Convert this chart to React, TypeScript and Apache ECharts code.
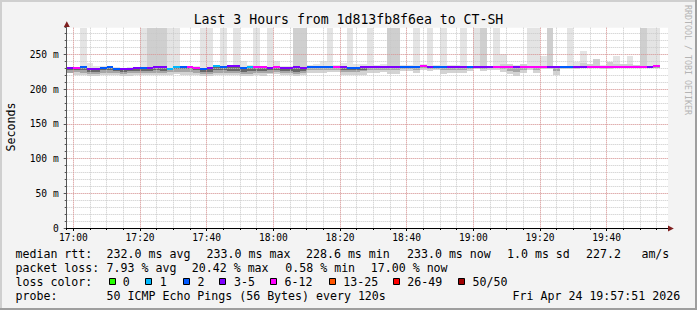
import React, { useEffect, useRef } from 'react';
import * as echarts from 'echarts';

// ---- time axis (minutes since midnight) ----
const T_START = 1018; // 16:58
const STEP_MIN = 2; // 120 s
const X_MAX = 1198.4;
const Y_MAX = 288.6;

// ---- per-step values (ms), 89 steps ----
const MED = [
  230.6, 230.6, 231.3, 229.1, 229.1, 230.6, 231.3, 229.8, 228.6, 229.8,
  230.2, 230.2, 231.0, 232.2, 231.3, 229.1, 232.0, 232.0, 232.0, 230.6,
  229.1, 230.2, 232.9, 232.5, 232.9, 232.9, 230.2, 231.3, 231.8, 231.6,
  230.4, 232.4, 230.5, 230.5, 232.4, 230.5, 232.4, 232.4, 232.4, 232.4,
  232.4, 232.4, 230.5, 230.5, 232.4, 232.4, 232.4, 232.4, 232.4, 232.4,
  232.4, 232.4, 232.4, 233.0, 232.4, 232.4, 232.4, 232.4, 232.4, 232.4,
  232.4, 232.4, 232.4, 232.4, 232.4, 232.4, 232.4, 232.4, 232.4, 232.4,
  232.4, 232.4, 232.4, 232.4, 232.4, 232.4, 232.4, 232.4, 232.4, 232.4,
  232.4, 232.4, 232.4, 232.4, 232.4, 232.4, 232.4, 232.4, 233.0,
];
// loss bucket index into LOSS_LABELS
const LOSS = [
  3, 4, 2, 3, 3, 2, 2, 2, 3, 3,
  3, 2, 3, 3, 3, 1, 1, 2, 4, 4,
  2, 3, 1, 2, 3, 3, 2, 1, 4, 4,
  3, 4, 3, 3, 3, 3, 2, 2, 2, 2,
  4, 3, 2, 2, 3, 3, 3, 3, 3, 3,
  2, 2, 2, 4, 3, 2, 2, 3, 3, 3,
  2, 3, 3, 3, 4, 4, 4, 3, 4, 4,
  4, 4, 3, 3, 2, 2, 3, 3, 4, 4,
  4, 4, 4, 4, 4, 4, 4, 3, 4,
];
// highest ping (300 = beyond the top of the graph)
const HI = [
  232, 232, 300, 238.2, 233, 233, 233, 232.5, 231, 232,
  232, 300, 300, 300, 300, 300, 300, 234, 234, 233,
  300, 300, 235, 300, 234, 300, 240.6, 235, 300, 234,
  300, 240, 234, 234, 300, 300, 235, 236.7, 240, 300,
  235, 238, 300, 236, 236, 300, 235, 236, 300, 300,
  235, 235, 300, 236, 300, 235, 300, 235, 235, 300,
  234, 300, 300, 234, 300, 250.7, 236.3, 234.9, 236.3, 300,
  300, 247.8, 300, 234, 234, 300, 239.7, 254.5, 236.3, 244,
  234.9, 239.2, 248.3, 237, 247.8, 234.9, 300, 300, 300,
];
// upper dense band top (null = none)
const HI2 = [
  null, null, null, null, null, null, null, null, null, null,
  null, null, 300, 300, 300, null, null, null, null, null,
  null, null, null, null, null, null, null, null, null, null,
  null, null, null, null, 300, 300, null, null, null, null,
  null, null, null, null, null, null, null, null, 300, 300,
  null, null, null, null, null, null, null, null, null, null,
  null, null, 300, null, null, 236, 236.3, null, 236.3, null,
  null, null, 300, null, null, null, null, 238, 236.3, 244,
  null, 239.2, 236, 237, 236, 234.9, 300, null, null,
];
// lowest ping
const LO = [
  222.7, 221, 221, 219.5, 219.5, 221, 221, 221, 219, 219,
  220, 220, 221, 221, 220, 221, 222, 221, 221, 221,
  218.5, 219, 221, 221, 220, 220, 219, 219, 220, 219,
  222, 222, 221, 221, 219, 220, 223, 224, 224, 225,
  225, 220, 220, 220, 221, 224, 224, 225, 222, 222,
  226, 226, 224, 228, 226, 227, 222, 223, 224, 223,
  226, 229.5, 226, 228, 227, 225, 221.3, 219.5, 223.9, 227.5,
  224, 229, 229, 220.5, 229, 229.5, 228.5, 230, 230, 230,
  229, 228.5, 230, 230, 230, 231, 230, 230, 230,
];
// lower medium band bottom
const LO2 = [
  224, 225, 224, 222.5, 222.5, 224, 224, 223, 222, 223,
  223, 223, 224, 224, 223, 225, 225, 225, 225, 224,
  222, 222, 224, 224, 223.5, 223.5, 222.5, 222.5, 223.5, 223.5,
  224, 225, 224, 224, 222.5, 223, 227, 227, 228, 228,
  228, 225, 225, 225, 226, 228, 228, 228, 227, 227,
  229, 229, 228, 230, 229, 229, 227, 228, 228, 228,
  229, 231, 229, 230, 230, 229, 226, 225, 228, 230,
  228, 231, 230, 226, 231, 231, 230, 231, 231, 231,
  231, 230, 231, 231, 231, 231.5, 231, 231, 231,
];
// lower dark band bottom
const LO3 = [
  227, 228, 227, 225, 225, 227.5, 227.5, 226, 225, 226.5,
  226.5, 226, 226, 227, 226, 227, 228.5, 228.5, 228.5, 227,
  224.5, 225, 227, 227, 226, 226, 225, 225.5, 226, 226,
  227, 227.5, 226, 226, 225, 226, 230, 230, 230, 230,
  230, 228, 228, 228, 228, 231, 231, 231, 231, 231,
  231.5, 231.5, 231.5, 231.5, 231.5, 231.5, 231.5, 231.8, 231.8, 231.8,
  231.8, 231.8, 231.8, 231.8, 231.8, 231.8, 231.8, 231.8, 231.8, 231.8,
  231.8, 231.8, 231.8, 231.8, 231.8, 231.8, 231.8, 231.8, 231.8, 231.8,
  231.8, 231.8, 231.8, 231.8, 231.8, 231.8, 231.8, 231.8, 232.2,
];

// ---- legend ----
const LOSS_LABELS = ['0', '1', '2', '3-5', '6-12', '13-25', '26-49', '50/50'];
const LOSS_COLORS = ['#26ff00', '#00b8ff', '#0059ff', '#7e00ff', '#ff00ff', '#ff5500', '#ff0000', '#a10000'];
const TITLE = 'Last 3 Hours from 1d813fb8f6ea to CT-SH';
const Y_NAME = 'Seconds';
const WATERMARK = 'RRDTOOL / TOBI OETIKER';
const RTT_ROW = ['median rtt:', '232.0 ms avg', '233.0 ms max', '228.6 ms min', '233.0 ms now', '1.0 ms sd', '227.2', 'am/s'];
const LOSS_ROW = ['packet loss:', '7.93 % avg', '20.42 % max', '0.58 % min', '17.00 % now'];
const LOSS_COLOR_TITLE = 'loss color:';
const PROBE_ROW = ['probe:', '50 ICMP Echo Pings (56 Bytes) every 120s', 'Fri Apr 24 19:57:51 2026'];

// layout (pixels)
const RTT_X = [15.5, 106.6, 206.6, 306, 407, 507, 586, 641.4];
const LOSS_X = [15.5, 106.6, 191.8, 285.3, 370.8];
const PROBE_X = [15.5, 106.6, 512.6];
const BOX_X = [108.7, 145.3, 182.7, 219.3, 270, 329, 393.3, 458.3];
const BOXTXT_X = [122.8, 159.8, 197.5, 234, 284.6, 343.3, 407.3, 472.6];
const ROW_Y = [254, 267.7, 282.3, 295.7];

const FONT = '"DejaVu Sans Mono", monospace';

function hhmm(v: number) {
  const h = Math.floor(v / 60);
  const m = Math.round(v - h * 60);
  return String(h).padStart(2, '0') + ':' + String(m).padStart(2, '0');
}

export default function App() {
  const ref = useRef<HTMLDivElement>(null);
  useEffect(() => {
    document.body.style.margin = '0';
    const chart = echarts.init(ref.current!, null, { renderer: 'svg' });

    const data = MED.map((m, i) => [
      T_START + i * STEP_MIN,
      T_START + (i + 1) * STEP_MIN,
      LO[i], LO2[i], LO3[i], m, HI2[i] == null ? m : HI2[i], HI[i], LOSS[i],
    ]);

    const minorGrid = {
      show: true, showMinLine: false, showMaxLine: false,
      lineStyle: { color: '#c8c8c8', type: [1, 1], width: 1 },
    };
    const majorGrid = {
      show: true, showMinLine: false, showMaxLine: false,
      lineStyle: { color: 'rgba(255,40,40,0.34)', type: [1, 1], width: 1 },
    };

    const smokeRender = (params: any, api: any) => {
      const cs = params.coordSys;
      const t0 = api.value(0), t1 = api.value(1);
      const x0 = Math.round(api.coord([t0, 0])[0]);
      const x1 = Math.round(api.coord([t1, 0])[0]);
      const Y = (v: number) => Math.round(Math.max(cs.y, api.coord([t0, v])[1]));
      const rect = (a: number, b: number, fill: string) => {
        const ya = Y(a), yb = Y(b);
        const top = Math.min(ya, yb), h = Math.abs(ya - yb);
        return { type: 'rect', shape: { x: x0, y: top, width: x1 - x0, height: h }, style: { fill } };
      };
      const lo = api.value(2), lo2 = api.value(3), lo3 = api.value(4), med = api.value(5), hi2 = api.value(6), hi = api.value(7);
      return {
        type: 'group',
        children: [
          rect(med, hi, '#e4e4e4'),
          rect(med, hi2, '#cfcfcf'),
          rect(lo, med, '#d3d3d3'),
          rect(lo2, med, '#a6a6a6'),
          rect(lo3, med, '#686868'),
        ],
      };
    };
    const medianRender = (params: any, api: any) => {
      const t0 = api.value(0), t1 = api.value(1);
      const x0 = Math.round(api.coord([t0, 0])[0]);
      const x1 = Math.round(api.coord([t1, 0])[0]);
      const y = api.coord([t0, api.value(5)])[1];
      return {
        type: 'rect',
        shape: { x: x0, y: Math.round(y - 1), width: x1 - x0, height: 2 },
        style: { fill: LOSS_COLORS[api.value(8)] },
      };
    };

    const txt = (text: string, x: number, y: number, size: number, extra: any = {}) => ({
      type: 'text', x, y, silent: true,
      style: {
        text, font: `${size}px ${FONT}`, fill: '#000',
        textVerticalAlign: 'middle', verticalAlign: 'middle', ...extra,
      },
    });

    const graphics: any[] = [
      // frame
      { type: 'rect', shape: { x: 0, y: 0, width: 697, height: 2 }, style: { fill: '#cfcfcf' }, silent: true },
      { type: 'rect', shape: { x: 0, y: 0, width: 2, height: 310 }, style: { fill: '#cfcfcf' }, silent: true },
      { type: 'rect', shape: { x: 0, y: 308, width: 697, height: 2 }, style: { fill: '#9e9e9e' }, silent: true },
      { type: 'rect', shape: { x: 695, y: 0, width: 2, height: 310 }, style: { fill: '#9e9e9e' }, silent: true },
      // arrows
      { type: 'polygon', shape: { points: [[66.8, 21.3], [63.8, 27], [69.8, 27]] }, style: { fill: '#7f1f1f' }, z: 10, silent: true },
      { type: 'polygon', shape: { points: [[673.8, 228.5], [668, 225.5], [668, 231.5]] }, style: { fill: '#7f1f1f' }, z: 10, silent: true },
      txt(TITLE, 348.5, 19.5, 13.2, { textAlign: 'center', align: 'center' }),
      {
        type: 'text', x: 10.5, y: 127, rotation: Math.PI / 2, silent: true,
        style: { text: Y_NAME, font: `11.6px ${FONT}`, fill: '#000', textAlign: 'center', align: 'center', textVerticalAlign: 'middle', verticalAlign: 'middle' },
      },
      {
        type: 'text', x: 688, y: 60, rotation: -Math.PI / 2, silent: true,
        style: { text: WATERMARK, font: `8.3px ${FONT}`, fill: '#b4b4b4', textAlign: 'center', align: 'center', textVerticalAlign: 'middle', verticalAlign: 'middle' },
      },
    ];
    RTT_ROW.forEach((t, i) => graphics.push(txt(t, RTT_X[i], ROW_Y[0], 11.6)));
    LOSS_ROW.forEach((t, i) => graphics.push(txt(t, LOSS_X[i], ROW_Y[1], 11.6)));
    graphics.push(txt(LOSS_COLOR_TITLE, 15.5, ROW_Y[2], 11.6));
    LOSS_LABELS.forEach((t, i) => {
      graphics.push({
        type: 'rect', silent: true,
        shape: { x: Math.round(BOX_X[i]) + 0.5, y: 278.5, width: 6, height: 6 },
        style: { fill: LOSS_COLORS[i], stroke: '#000', lineWidth: 1 },
      });
      graphics.push(txt(t, BOXTXT_X[i], ROW_Y[2], 11.6));
    });
    PROBE_ROW.forEach((t, i) => graphics.push(txt(t, PROBE_X[i], ROW_Y[3], 11.6)));

    const option: any = {
      animation: false,
      backgroundColor: '#f3f3f3',
      grid: {
        left: 66.7, top: 27.7, width: 601.3, height: 200.3,
        show: true, backgroundColor: '#ffffff', borderWidth: 0,
        containLabel: false, outerBoundsMode: 'none',
      },
      xAxis: [
        {
          type: 'value', position: 'bottom', min: T_START, max: X_MAX,
          minInterval: 5, maxInterval: 5, splitNumber: 36, z: 3,
          axisLine: { show: false, onZero: false },
          axisLabel: { show: false },
          axisTick: { show: true, length: 2, lineStyle: { color: '#000' } },
          splitLine: minorGrid,
        },
        {
          type: 'value', position: 'bottom', min: T_START, max: X_MAX,
          minInterval: 20, maxInterval: 20, splitNumber: 9, z: 3,
          axisLine: { show: true, onZero: false, lineStyle: { color: '#000', width: 1 } },
          axisTick: { show: true, length: 3, lineStyle: { color: '#000' } },
          axisLabel: {
            show: true, margin: 4, fontFamily: FONT, fontSize: 9.6, color: '#000',
            showMinLabel: false, showMaxLabel: false,
            formatter: (v: number) => (Math.abs(v / 20 - Math.round(v / 20)) < 1e-6 ? hhmm(v) : ''),
          },
          splitLine: majorGrid,
        },
      ],
      yAxis: [
        {
          type: 'value', position: 'left', min: 0, max: Y_MAX,
          minInterval: 10, maxInterval: 10, splitNumber: 29, z: 3,
          axisLine: { show: false, onZero: false },
          axisLabel: { show: false },
          axisTick: { show: true, length: 2, lineStyle: { color: '#555' } },
          splitLine: minorGrid,
        },
        {
          type: 'value', position: 'left', min: 0, max: Y_MAX,
          minInterval: 50, maxInterval: 50, splitNumber: 6, z: 3,
          axisLine: { show: true, onZero: false, lineStyle: { color: '#555', width: 1 } },
          axisTick: { show: true, length: 3, lineStyle: { color: '#555' } },
          axisLabel: {
            show: true, margin: 8, fontFamily: FONT, fontSize: 9.6, color: '#000',
            showMaxLabel: false,
            formatter: (v: number) => (v === 0 ? '0' : Math.abs(v / 50 - Math.round(v / 50)) < 1e-6 ? `${v} m` : ''),
          },
          splitLine: majorGrid,
        },
      ],
      series: [
        {
          type: 'custom', name: 'smoke', xAxisIndex: 1, yAxisIndex: 1, z: 2,
          renderItem: smokeRender, data, encode: { x: [0, 1], y: [2, 7] }, silent: true,
        },
        {
          type: 'custom', name: 'median', xAxisIndex: 1, yAxisIndex: 1, z: 5,
          renderItem: medianRender, data, encode: { x: [0, 1], y: 5 }, silent: true,
        },
      ],
      graphic: graphics,
    };
    chart.setOption(option);
    return () => chart.dispose();
  }, []);
  return (
    <div
      ref={ref}
      style={{ position: 'absolute', left: 0, top: 0, width: 697, height: 310, background: '#f3f3f3' }}
    />
  );
}
